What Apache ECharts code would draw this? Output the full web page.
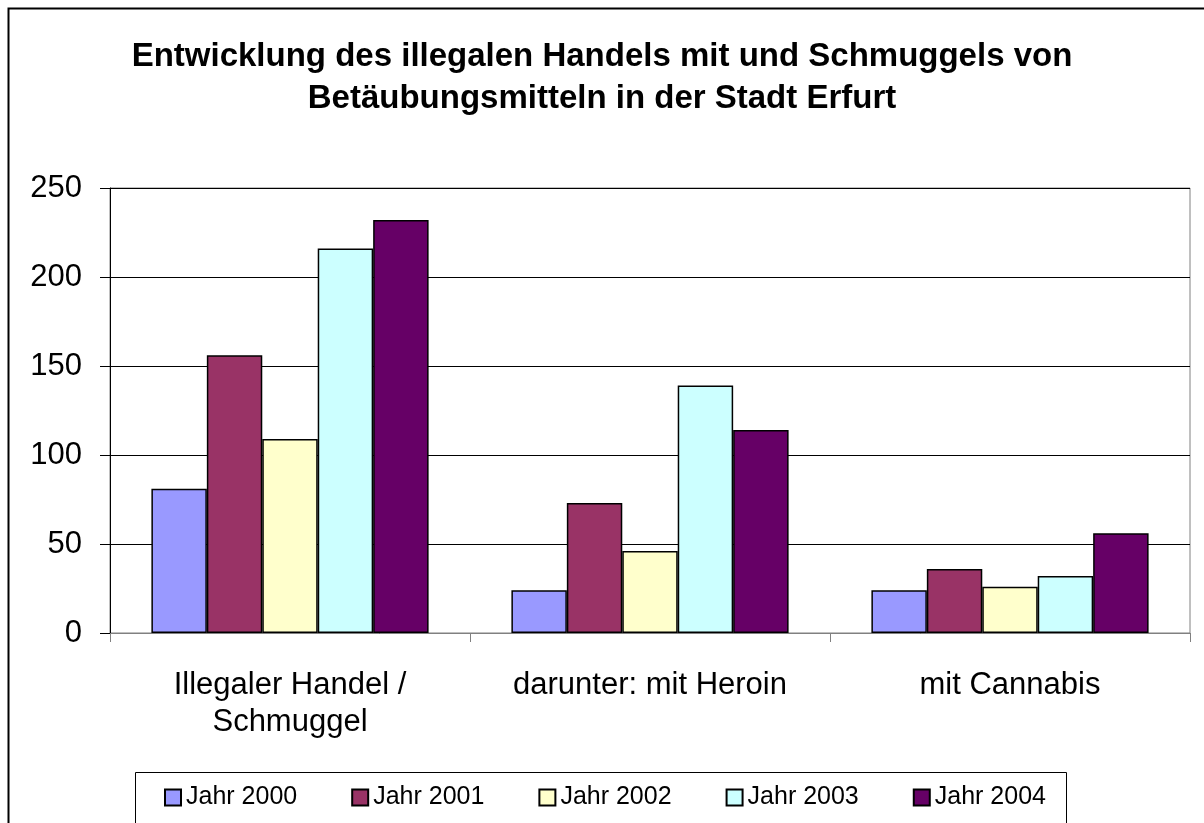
<!DOCTYPE html>
<html>
<head>
<meta charset="utf-8">
<script src="https://cdn.jsdelivr.net/npm/echarts@6/dist/echarts.min.js"></script>
<style>
  html, body { margin: 0; padding: 0; background: #fff; }
  #chart { width: 1204px; height: 823px; }
</style>
</head>
<body>
<div id="chart"></div>
<script>
// categories and values
var categories = ['Illegaler Handel /\nSchmuggel', 'darunter: mit Heroin', 'mit Cannabis']
var years = ['Jahr 2000', 'Jahr 2001', 'Jahr 2002', 'Jahr 2003', 'Jahr 2004']
var jahr2000 = [81, 24, 24]
var jahr2001 = [156, 73, 36]
var jahr2002 = [109, 46, 26]
var jahr2003 = [216, 139, 32]
var jahr2004 = [232, 114, 56]
var yTicks = [0, 50, 100, 150, 200, 250]

var values = [jahr2000, jahr2001, jahr2002, jahr2003, jahr2004]
var colors = ['#9999FF', '#993366', '#FFFFCC', '#CCFFFF', '#660066']
var font = 'Arial, "Liberation Sans", sans-serif'

var chart = echarts.init(document.getElementById('chart'))

var series = years.map(function (name, i) {
  return {
    name: name,
    type: 'bar',
    data: values[i],
    barGap: '0%',
    barCategoryGap: '23%',
    itemStyle: {
      color: colors[i],
      borderColor: '#000',
      borderWidth: 1.5
    },
    emphasis: { disabled: true }
  }
})

chart.setOption({
  animation: false,
  backgroundColor: '#fff',
  title: {
    text: 'Entwicklung des illegalen Handels mit und Schmuggels von\nBetäubungsmitteln in der Stadt Erfurt',
    left: 'center',
    top: 31,
    textStyle: {
      fontFamily: font,
      fontSize: 33,
      fontWeight: 'bold',
      color: '#000',
      lineHeight: 42
    }
  },
  graphic: [
    {
      type: 'rect',
      shape: { x: 8.5, y: 8.5, width: 1300, height: 1000 },
      style: { fill: null, stroke: '#000', lineWidth: 2 },
      silent: true
    },
    {
      type: 'rect',
      shape: { x: 135.5, y: 772.5, width: 931, height: 100 },
      style: { fill: null, stroke: '#000', lineWidth: 1 },
      silent: true
    }
  ],
  legend: {
    data: years,
    left: 159,
    top: 780,
    itemWidth: 16,
    itemHeight: 16,
    itemGap: 54,
    icon: 'rect',
    textStyle: {
      fontFamily: font,
      fontSize: 25,
      color: '#000'
    }
  },
  grid: {
    left: 110,
    top: 188,
    right: 14,
    bottom: 190,
    show: true,
    borderColor: '#808080',
    borderWidth: 1
  },
  xAxis: {
    type: 'category',
    data: categories,
    axisLine: { lineStyle: { color: '#808080', width: 1 } },
    axisTick: { show: true, length: 9, lineStyle: { color: '#808080' } },
    axisLabel: {
      fontFamily: font,
      fontSize: 31,
      color: '#000',
      lineHeight: 37,
      margin: 34
    }
  },
  yAxis: {
    type: 'value',
    min: yTicks[0],
    max: yTicks[yTicks.length - 1],
    interval: 50,
    axisLine: { show: true, lineStyle: { color: '#000', width: 1 } },
    axisTick: { show: true, length: 10, lineStyle: { color: '#000' } },
    splitLine: { show: true, lineStyle: { color: '#000', width: 1 } },
    axisLabel: {
      fontFamily: font,
      fontSize: 31,
      color: '#000',
      margin: 28
    }
  },
  series: series
})
</script>
</body>
</html>
